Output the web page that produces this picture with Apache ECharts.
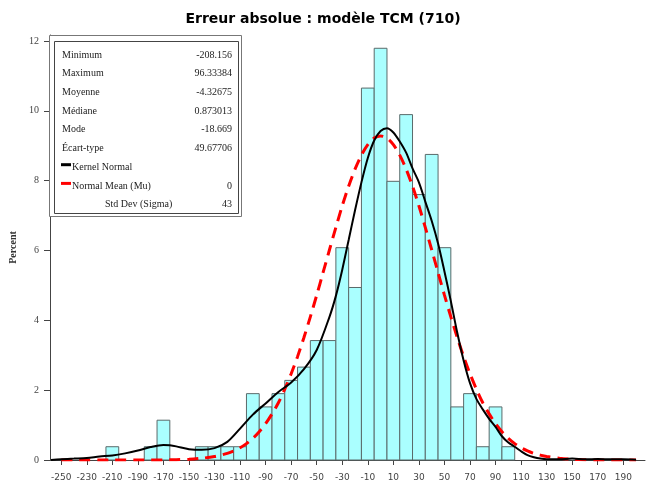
<!DOCTYPE html>
<html>
<head>
<meta charset="utf-8">
<script src="https://cdn.jsdelivr.net/npm/echarts@6/dist/echarts.min.js"></script>
<style>
html,body{margin:0;padding:0;background:#fff;}
#chart{width:646px;height:491px;}
</style>
</head>
<body>
<div id="chart"></div>
<script>
// ---- Data ----
const chartTitle = 'Erreur absolue : modèle TCM (710)';
const binWidth = 10;
const binCenters = [-210,-180,-170,-140,-130,-120,-110,-100,-90,-80,-70,-60,-50,-40,-30,-20,-10,0,10,20,30,40,50,60,70,80,90,100];
const binPercent = [0.38,0.38,1.14,0.38,0.38,0.38,0.38,1.90,1.52,1.90,2.28,2.66,3.42,3.42,6.08,4.94,10.65,11.79,7.98,9.89,7.60,8.75,6.08,1.52,1.90,0.38,1.52,0.38];

const kernelX = [-258,-250,-240,-230,-220,-210,-200,-190,-180,-170,-165,-160,-150,-140,-130,-120,-110,-100,-90,-80,-70,-60,-50,-40,-35,-30,-25,-20,-15,-10,-5,0,5,10,15,20,25,30,35,40,45,50,55,60,65,70,75,80,85,90,95,100,105,110,115,120,125,130,140,150,160,170,180,190,200];
const kernelY = [0.0,0.02,0.04,0.06,0.10,0.13,0.19,0.27,0.37,0.43,0.42,0.39,0.31,0.29,0.34,0.52,0.90,1.30,1.62,1.95,2.22,2.60,3.15,4.10,4.70,5.45,6.30,7.15,7.95,8.65,9.15,9.42,9.50,9.38,9.12,8.80,8.35,7.95,7.40,6.85,6.20,5.40,4.55,3.65,2.85,2.20,1.75,1.45,1.18,0.95,0.68,0.50,0.38,0.25,0.14,0.08,0.04,0.02,0.02,0.04,0.02,0.03,0.02,0.02,0.01];

const normalX = [-250,-240,-230,-220,-210,-200,-190,-180,-170,-160,-150,-140,-130,-125,-120,-115,-110,-105,-100,-95,-90,-85,-80,-75,-70,-65,-60,-55,-50,-45,-40,-35,-30,-25,-20,-15,-10,-5,0,5,10,15,20,25,30,35,40,45,50,55,60,65,70,75,80,85,90,95,100,105,110,115,120,125,130,140,150,160,170,180,190,200];
const normalY = [0,0,0,0,0,0,0,0,0,0.01,0.02,0.05,0.10,0.14,0.19,0.26,0.35,0.47,0.62,0.81,1.04,1.32,1.64,2.03,2.47,2.96,3.51,4.10,4.72,5.37,6.02,6.66,7.28,7.84,8.33,8.73,9.03,9.22,9.28,9.22,9.03,8.73,8.33,7.84,7.28,6.66,6.02,5.37,4.72,4.10,3.51,2.96,2.47,2.03,1.64,1.32,1.04,0.81,0.62,0.47,0.35,0.26,0.19,0.14,0.10,0.05,0.02,0.01,0,0,0,0];

const xTicks = [-250,-230,-210,-190,-170,-150,-130,-110,-90,-70,-50,-30,-10,10,30,50,70,90,110,130,150,170,190];
const yTicks = [0,2,4,6,8,10,12];

const statLabels = ['Minimum','Maximum','Moyenne','Médiane','Mode','Écart-type'];
const statValues = ['-208.156','96.33384','-4.32675','0.873013','-18.669','49.67706'];
const kernelLegend = 'Kernel Normal';
const normalLegend = 'Normal Mean (Mu)';
const normalMu = '0';
const sigmaLabel = 'Std Dev (Sigma)';
const normalSigma = '43';

// ---- Chart ----
const chart = echarts.init(document.getElementById('chart'), null, {renderer:'canvas'});

const serif = 'Liberation Serif';
const rowY0 = 55, rowStep = 18.7, leftX = 62, rightX = 232;
const graphics = [
  {type:'rect', shape:{x:49.5,y:35.5,width:192,height:181}, style:{fill:'#fff', stroke:'#777', lineWidth:1}, z:10},
  {type:'rect', shape:{x:54.5,y:41.5,width:184,height:172}, style:{fill:'#fff', stroke:'#444', lineWidth:1}, z:11}
];
statLabels.forEach((s,i)=>{
  graphics.push({type:'text', x:leftX, y:rowY0+i*rowStep, style:{text:s, font:'10px "'+serif+'"', fill:'#222', textAlign:'left', textVerticalAlign:'middle'}, z:12});
  graphics.push({type:'text', x:rightX, y:rowY0+i*rowStep, style:{text:statValues[i], font:'10px "'+serif+'"', fill:'#222', textAlign:'right', textVerticalAlign:'middle'}, z:12});
});
const r6 = rowY0+6*rowStep, r7 = rowY0+7*rowStep, r8 = rowY0+8*rowStep;
graphics.push({type:'line', shape:{x1:61,y1:r6-2.5,x2:71,y2:r6-2.5}, style:{stroke:'#000', lineWidth:3}, z:12});
graphics.push({type:'text', x:72, y:r6, style:{text:kernelLegend, font:'10px "'+serif+'"', fill:'#222', textAlign:'left', textVerticalAlign:'middle'}, z:12});
graphics.push({type:'line', shape:{x1:61,y1:r7-2.5,x2:71,y2:r7-2.5}, style:{stroke:'#ff0000', lineWidth:3}, z:12});
graphics.push({type:'text', x:72, y:r7, style:{text:normalLegend, font:'10px "'+serif+'"', fill:'#222', textAlign:'left', textVerticalAlign:'middle'}, z:12});
graphics.push({type:'text', x:rightX, y:r7, style:{text:normalMu, font:'10px "'+serif+'"', fill:'#222', textAlign:'right', textVerticalAlign:'middle'}, z:12});
graphics.push({type:'text', x:105, y:r8, style:{text:sigmaLabel, font:'10px "'+serif+'"', fill:'#222', textAlign:'left', textVerticalAlign:'middle'}, z:12});
graphics.push({type:'text', x:rightX, y:r8, style:{text:normalSigma, font:'10px "'+serif+'"', fill:'#222', textAlign:'right', textVerticalAlign:'middle'}, z:12});

const option = {
  animation:false,
  backgroundColor:'#fff',
  title:{
    text:chartTitle, left:'center', top:7,
    textStyle:{fontFamily:'DejaVu Sans', fontWeight:'bold', fontSize:14, color:'#000'}
  },
  grid:{left:50, right:1, top:35, bottom:31, containLabel:false},
  xAxis:{
    type:'value', min:-258.8, max:207,
    axisLine:{show:true, onZero:false, lineStyle:{color:'#444', width:1}},
    axisTick:{show:true, length:5, lineStyle:{color:'#444'}, customValues:xTicks},
    axisLabel:{customValues:xTicks, fontFamily:'DejaVu Sans', fontSize:9, color:'#444', margin:13},
    splitLine:{show:false}
  },
  yAxis:{
    type:'value', min:0, max:12.17,
    name:'Percent', nameLocation:'middle', nameGap:30, nameRotate:90,
    nameTextStyle:{fontFamily:serif, fontSize:10, color:'#333', fontWeight:'bold'},
    axisLine:{show:true, onZero:false, lineStyle:{color:'#444', width:1}},
    axisTick:{show:true, length:6, lineStyle:{color:'#444'}, customValues:yTicks},
    axisLabel:{customValues:yTicks, fontFamily:serif, fontSize:10, color:'#444', margin:11},
    splitLine:{show:false}
  },
  graphic:graphics,
  series:[
    {
      type:'custom', name:'Histogram',
      data:binCenters.map((c,i)=>[c, binPercent[i]]),
      encode:{x:0, y:1},
      renderItem:function(params, api){
        const c = api.value(0), v = api.value(1);
        const p0 = api.coord([c - binWidth/2, v]);
        const p1 = api.coord([c + binWidth/2, 0]);
        return {type:'rect', shape:{x:p0[0], y:p0[1], width:p1[0]-p0[0], height:p1[1]-p0[1]},
                style:{fill:'#aaffff', stroke:'#5a6a6a', lineWidth:1}};
      },
      z:2
    },
    {
      type:'line', name:normalLegend, data:normalX.map((x,i)=>[x, normalY[i]]),
      smooth:0.3, showSymbol:false, symbol:'none',
      lineStyle:{color:'#ff0000', width:3, type:[11,7]}, z:4
    },
    {
      type:'line', name:kernelLegend, data:kernelX.map((x,i)=>[x, kernelY[i]]),
      smooth:0.3, showSymbol:false, symbol:'none',
      lineStyle:{color:'#000', width:2}, z:5
    }
  ]
};
chart.setOption(option);
</script>
</body>
</html>
